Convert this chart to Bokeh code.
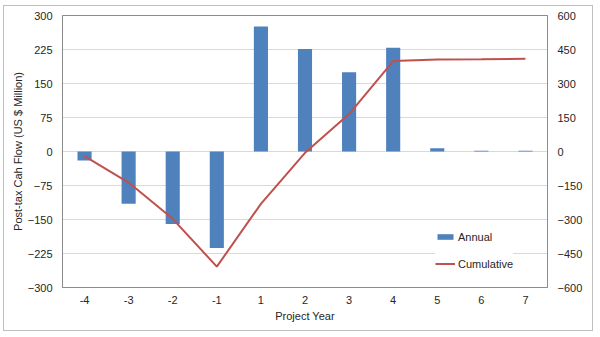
from bokeh.plotting import figure
from bokeh.models import (Range1d, LinearAxis, FixedTicker, Legend, LegendItem,
                          ColumnDataSource, FactorRange)
from bokeh.embed import file_html
from bokeh.resources import INLINE

years = ["-4", "-3", "-2", "-1", "1", "2", "3", "4", "5", "6", "7"]
annual = [-20, -115, -160, -213, 276, 226, 175, 229, 7, 1.5, 1.5]
cumulative = [-20, -137, -297, -508, -231, -6, 165, 399, 406, 407, 409]

left_ticks = [-300, -225, -150, -75, 0, 75, 150, 225, 300]
right_ticks = [-600, -450, -300, -150, 0, 150, 300, 450, 600]

FONT = "Liberation Sans"
TXT = "#262626"

src = ColumnDataSource(dict(year=years, annual=annual, cum=cumulative))

p = figure(width=590, height=326, x_range=FactorRange(*years),
           y_range=Range1d(-300, 300), output_backend="svg",
           toolbar_location=None, min_border_left=58, min_border_right=47,
           min_border_top=9, min_border_bottom=45,
           styles={"border": "1px solid #bfbfbf", "margin-left": "3px",
                   "margin-top": "5px"})
p.extra_y_ranges = {"right": Range1d(-600, 600)}

p.background_fill_color = "white"
p.border_fill_color = "white"
p.outline_line_color = "#8c8c8c"
p.outline_line_width = 1

p.xgrid.grid_line_color = None
p.ygrid.grid_line_color = "#d9d9d9"
p.ygrid.ticker = FixedTicker(ticks=left_ticks)

bars = p.vbar(x="year", top="annual", width=0.32, source=src,
              fill_color="#4F81BD", line_color=None)
line = p.line(x="year", y="cum", source=src, y_range_name="right",
              line_color="#C0504D", line_width=2)

# left axis
ya = p.yaxis[0]
ya.ticker = FixedTicker(ticks=left_ticks)
ya.axis_label = "Post-tax Cah Flow (US $ Million)"
ya.axis_label_text_font = FONT
ya.axis_label_text_font_size = "11px"
ya.axis_label_text_font_style = "normal"
ya.axis_label_text_color = TXT
ya.axis_label_standoff = 1
ya.major_label_text_font = FONT
ya.major_label_text_font_size = "11px"
ya.major_label_text_color = TXT
ya.major_tick_line_color = None
ya.minor_tick_line_color = None
ya.major_tick_out = 0
ya.major_label_standoff = 10
ya.axis_line_color = "#8c8c8c"

# right axis
ra = LinearAxis(y_range_name="right", ticker=FixedTicker(ticks=right_ticks))
ra.major_label_text_font = FONT
ra.major_label_text_font_size = "11px"
ra.major_label_text_color = TXT
ra.major_tick_line_color = None
ra.minor_tick_line_color = None
ra.major_tick_out = 0
ra.major_label_standoff = 10
ra.axis_line_color = "#8c8c8c"
p.add_layout(ra, "right")

# x axis
xa = p.xaxis[0]
xa.axis_label = "Project Year"
xa.axis_label_text_font = FONT
xa.axis_label_text_font_size = "11px"
xa.axis_label_text_font_style = "normal"
xa.axis_label_text_color = TXT
xa.axis_label_standoff = 3
xa.major_label_text_font = FONT
xa.major_label_text_font_size = "11px"
xa.major_label_text_color = TXT
xa.major_tick_line_color = None
xa.major_tick_out = 0
xa.major_label_standoff = 8
xa.axis_line_color = "#8c8c8c"

legend = Legend(items=[LegendItem(label="Annual", renderers=[bars]),
                       LegendItem(label="Cumulative", renderers=[line])],
                location=(373, 17), orientation="vertical",
                background_fill_color="white", background_fill_alpha=1,
                border_line_color=None, padding=6, margin=0, spacing=14,
                glyph_width=20, glyph_height=7, label_height=13,
                label_standoff=3, label_text_font=FONT,
                label_text_font_size="11px", label_text_color=TXT)
p.add_layout(legend, "center")

open("out.html", "w").write(file_html(p, INLINE))
